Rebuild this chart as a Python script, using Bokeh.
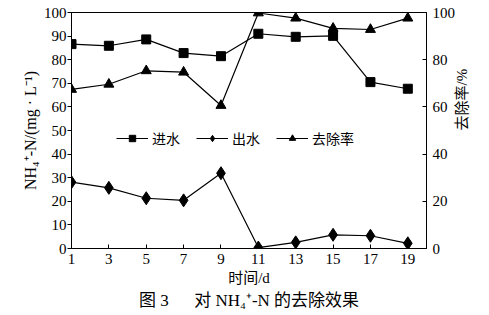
import math
from bokeh.plotting import figure
from bokeh.models import (Range1d, LinearAxis, FixedTicker, Legend, LegendItem, Title)
from bokeh.embed import file_html
from bokeh.resources import INLINE

days = [1, 3, 5, 7, 9, 11, 13, 15, 17, 19]
influent = [86.6, 85.9, 88.6, 82.8, 81.5, 91.0, 89.7, 90.1, 70.5, 67.7]
effluent = [28.1, 25.7, 21.3, 20.4, 31.9, 0.4, 2.6, 5.8, 5.4, 2.2]
removal = [67.4, 69.6, 75.3, 74.7, 60.6, 99.8, 97.6, 93.3, 92.8, 97.6]
x_ticks = [1, 3, 5, 7, 9, 11, 13, 15, 17, 19]
left_ticks = [0, 10, 20, 30, 40, 50, 60, 70, 80, 90, 100]
right_ticks = [0, 20, 40, 60, 80, 100]
series_names = ["进水", "出水", "去除率"]
x_title = "时间/d"
left_title = "NH₄⁺-N/(mg · L⁻¹)"
right_title = "去除率/%"
caption = "图 3\u3000\u00a0\u00a0对 NH₄⁺-N 的去除效果"

SERIF = "Liberation Serif"
CJK = "Noto Sans CJK SC"
MIXED = "'Liberation Serif', 'Noto Sans CJK SC'"

p = figure(width=489, height=315, output_backend="svg", toolbar_location=None,
           x_range=Range1d(1, 20), y_range=Range1d(0, 100),
           min_border_left=71, min_border_right=63, min_border_top=12, min_border_bottom=0)
p.frame_width = 355
p.frame_height = 236
p.background_fill_color = "white"
p.border_fill_color = "white"
p.outline_line_color = "black"
p.outline_line_width = 1
p.grid.visible = False

p.extra_y_ranges = {"right": Range1d(0, 100)}
raxis = LinearAxis(y_range_name="right", ticker=FixedTicker(ticks=right_ticks))
p.add_layout(raxis, "right")

for ax in [p.xaxis[0], p.yaxis[0], raxis]:
    ax.axis_line_color = "black"
    ax.major_tick_line_color = "black"
    ax.minor_tick_line_color = None
    ax.major_label_text_font = SERIF
    ax.major_label_text_font_size = "15px"
    ax.major_label_text_color = "black"
    ax.axis_label_text_color = "black"
    ax.axis_label_text_font_style = "normal"

p.xaxis.ticker = FixedTicker(ticks=x_ticks)
p.xaxis.major_tick_in = 4
p.xaxis.major_tick_out = 0
p.xaxis.major_label_standoff = 5
p.xaxis.axis_label = x_title
p.xaxis.axis_label_text_font = MIXED
p.xaxis.axis_label_text_font_size = "15px"
p.xaxis.axis_label_standoff = 3

p.yaxis[0].ticker = FixedTicker(ticks=left_ticks)
p.yaxis[0].major_tick_in = 0
p.yaxis[0].major_tick_out = 4
p.yaxis[0].major_label_standoff = 1
p.yaxis[0].axis_label = left_title
p.yaxis[0].axis_label_text_font = SERIF
p.yaxis[0].axis_label_text_font_size = "16px"
p.yaxis[0].axis_label_standoff = 2

raxis.major_tick_in = 4
raxis.major_tick_out = 0
raxis.major_label_standoff = 6
raxis.axis_label = right_title
raxis.axis_label_text_font = MIXED
raxis.axis_label_text_font_size = "15px"
raxis.axis_label_standoff = 4
raxis.axis_label_orientation = math.pi / 2

lw = 1.2
l1 = p.line(days, influent, line_color="black", line_width=lw)
s1 = p.scatter(days, influent, marker="square", size=9, color="black")
l2 = p.line(days, effluent, line_color="black", line_width=lw)
s2 = p.scatter(days, effluent, marker="diamond", size=13, color="black")
l3 = p.line(days, removal, line_color="black", line_width=lw, y_range_name="right")
s3 = p.scatter(days, removal, marker="triangle", size=10, color="black", y_range_name="right")

legend = Legend(items=[LegendItem(label=series_names[0], renderers=[l1, s1]),
                       LegendItem(label=series_names[1], renderers=[l2, s2]),
                       LegendItem(label=series_names[2], renderers=[l3, s3])],
                orientation="horizontal", location=(45, 100),
                glyph_width=32, glyph_height=16, label_standoff=4, spacing=16,
                padding=0, margin=0, border_line_color=None, background_fill_alpha=0,
                label_text_font=CJK, label_text_font_size="14px", label_text_color="black")
p.add_layout(legend, "center")

cap = Title(text=caption, align="center", text_font=MIXED, text_font_size="17px",
            text_font_style="normal", text_color="black", standoff=0, offset=0)
p.add_layout(cap, "below")

open("out.html", "w").write(file_html(p, INLINE))
